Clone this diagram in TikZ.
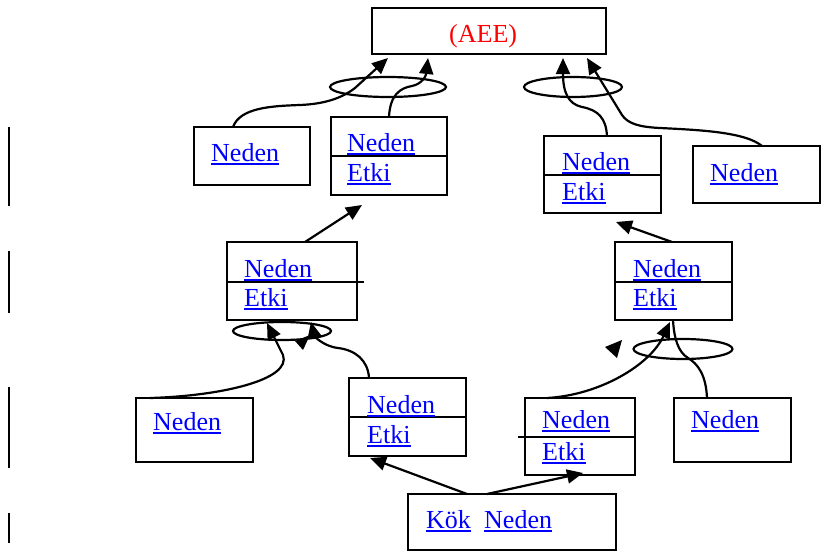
\documentclass[tikz,border=0pt]{standalone}
\usepackage{fontspec}
\setmainfont{Liberation Serif}
\usetikzlibrary{arrows.meta,shapes.geometric}
% blue underlined link text
\newcommand\ulink[1]{\textcolor{blue}{\vtop{\hbox{#1}\kern1.5pt\hrule height 2pt}}}
\begin{document}
\begin{tikzpicture}[x=1pt,y=-1pt,
  box/.style={draw, line width=2.2pt, rectangle, inner sep=0pt, outer sep=0pt, anchor=north west},
  ring/.style={draw, ellipse, line width=2.2pt, inner sep=0pt, outer sep=0pt},
  lbl/.style={anchor=base west, inner sep=0pt, font=\fontsize{26pt}{30pt}\selectfont},
  link/.style={line width=2.2pt},
  arr/.style={link, -{Triangle[length=16pt,width=14pt]}},
  divider/.style={line width=2pt},
  bar/.style={line width=2.2pt}
]
\useasboundingbox (0,0) rectangle (821,551);

% level marks on the left
\draw[bar] (9,127) -- (9,206);
\draw[bar] (9,251) -- (9,313);
\draw[bar] (9,387) -- (9,468);
\draw[bar] (9,513) -- (9,543);

% top event
\node[box, minimum width=234pt, minimum height=46pt] (top) at (372,8) {};
\node[lbl, text=red] (aee) at (449,42.5) {(AEE)};

% upper row
\node[box, minimum width=116pt, minimum height=58pt] (b1) at (194,127) {};
\node[lbl] (t1) at (211,161) {\ulink{Neden}};

\node[box, minimum width=116pt, minimum height=78pt] (b2) at (331,117) {};
\draw[divider] (b2.west |- 0,156) -- (b2.east |- 0,156);
\node[lbl] (t2a) at (347,151) {\ulink{Neden}};
\node[lbl] (t2b) at (347,181) {\ulink{Etki}};

\node[box, minimum width=117pt, minimum height=77pt] (b3) at (544,136) {};
\draw[divider] (b3.west |- 0,175) -- (b3.east |- 0,175);
\node[lbl] (t3a) at (562,170) {\ulink{Neden}};
\node[lbl] (t3b) at (562,200) {\ulink{Etki}};

\node[box, minimum width=127pt, minimum height=57pt] (b4) at (693,146) {};
\node[lbl] (t4) at (710,181) {\ulink{Neden}};

% middle row
\node[box, minimum width=130pt, minimum height=78pt] (b5) at (227,242) {};
\draw[divider] (b5.west |- 0,282) -- (364,282);
\node[lbl] (t5a) at (244,277) {\ulink{Neden}};
\node[lbl] (t5b) at (244,306) {\ulink{Etki}};

\node[box, minimum width=117pt, minimum height=78pt] (b6) at (615,242) {};
\draw[divider] (b6.west |- 0,282) -- (b6.east |- 0,282);
\node[lbl] (t6a) at (633,277.5) {\ulink{Neden}};
\node[lbl] (t6b) at (633,306) {\ulink{Etki}};

% lower row
\node[box, minimum width=117pt, minimum height=64pt] (b7) at (136,398) {};
\node[lbl] (t7) at (153,430.5) {\ulink{Neden}};

\node[box, minimum width=117pt, minimum height=78pt] (b8) at (349,378) {};
\draw[divider] (b8.west |- 0,417) -- (b8.east |- 0,417);
\node[lbl] (t8a) at (367,413.5) {\ulink{Neden}};
\node[lbl] (t8b) at (367,443.5) {\ulink{Etki}};

\node[box, minimum width=110pt, minimum height=77pt] (b9) at (525,398) {};
\draw[divider] (518,437) -- (b9.east |- 0,437);
\node[lbl] (t9a) at (542,428.5) {\ulink{Neden}};
\node[lbl] (t9b) at (542,460.5) {\ulink{Etki}};

\node[box, minimum width=117pt, minimum height=64pt] (b10) at (674,398) {};
\node[lbl] (t10) at (691,428.5) {\ulink{Neden}};

% root cause
\node[box, minimum width=208pt, minimum height=56pt] (b11) at (408,494) {};
\node[lbl] (t11a) at (426,528.5) {\ulink{Kök}};
\node[lbl] (t11b) at (484,528.5) {\ulink{Neden}};

% AND rings
\node[ring, minimum width=116pt, minimum height=20pt] (e1) at (388,87) {};
\node[ring, minimum width=98pt, minimum height=20pt] (e2) at (573,87) {};
\node[ring, minimum width=98pt, minimum height=18pt] (e3) at (282,331) {};
\node[ring, minimum width=99pt, minimum height=20pt] (e4) at (683,349) {};

% arrow ends
\coordinate (tA) at (388,58);
\coordinate (tB) at (428,58);
\coordinate (tC) at (563,58);
\coordinate (tD) at (587,58);
\coordinate (tE) at (362,205);
\coordinate (tF) at (616,222);
\coordinate (tG) at (267,323);
\coordinate (tH) at (311,322);
\coordinate (tI) at (670,322);
\coordinate (tL1) at (370,458);
\coordinate (tL2) at (583,473);

% connectors
\draw[arr] (233,0 |- b1.north) .. controls (240,108) and (270,106) .. (300,105)
  .. controls (325,104) and (342,98) .. (355,88) -- (tA);
\draw[arr] (389,0 |- b2.north) .. controls (390,95) and (400,88) .. (412,86)
  .. controls (422,84) and (426,76) .. (tB);
\draw[arr] (607,0 |- b3.north) .. controls (606,118) and (598,110) .. (582,107)
  .. controls (568,104) and (563,92) .. (tC);
\draw[arr] (762,0 |- b4.north) .. controls (745,132) and (700,130) .. (660,128)
  .. controls (640,127) and (628,124) .. (622,115) -- (tD);
\draw[arr] (305,0 |- b5.north) -- (tE);
\draw[arr] (672,0 |- b6.north) -- (tF);
\draw[arr] (150,0 |- b7.north) .. controls (220,396) and (292,380) .. (283,355) -- (tG);
\draw[arr] (369,0 |- b8.north) .. controls (368,360) and (355,350) .. (338,348)
  .. controls (322,346) and (314,335) .. (tH);
\draw[arr] (547,0 |- b9.north) .. controls (600,395) and (650,365) .. (tI);
\draw[link] (707,0 |- b10.north) .. controls (706,375) and (698,364) .. (688,358)
  .. controls (678,352) and (674,338) .. (673,0 |- b6.south);
\draw[arr] (467,0 |- b11.north) -- (tL1);
\draw[arr] (487,0 |- b11.north) -- (tL2);

% loose arrow heads
\fill (295,341) -- (310,335) -- (303,350) -- cycle;
\fill (605,347) -- (622,340) -- (617,358) -- cycle;
\end{tikzpicture}
\end{document}
